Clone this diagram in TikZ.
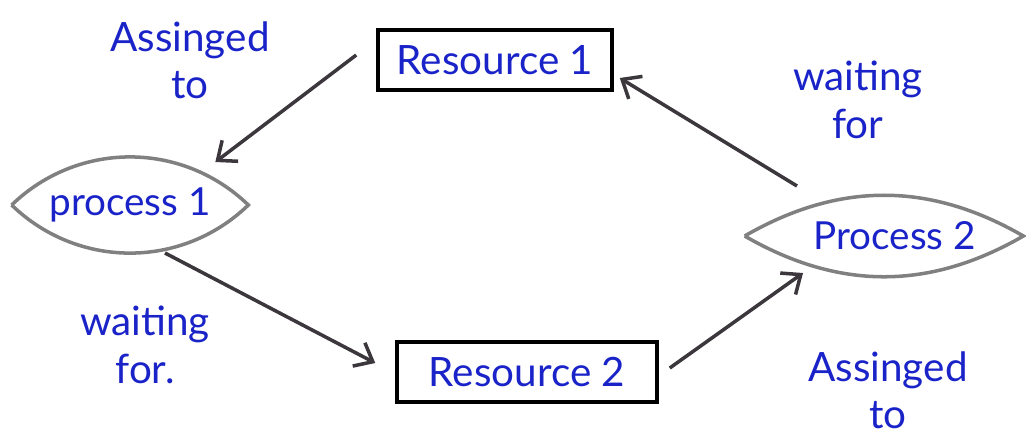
\documentclass[tikz,border=0pt]{standalone}
\usepackage{fontspec}
\setmainfont{Lato}
\usepackage{tikz}
\usetikzlibrary{calc, positioning, arrows.meta}
\definecolor{inkblue}{RGB}{25,35,200}
\definecolor{pencil}{RGB}{60,55,60}
\tikzstyle{res}=[draw=black, line width=2pt, inner sep=0pt, minimum height=60*0.02cm, text=inkblue, font=\fontsize{23}{26}\selectfont]
\tikzstyle{proc}=[inner sep=0pt, text=inkblue, font=\fontsize{22}{26}\selectfont]
\tikzstyle{lbl}=[align=center, text=inkblue, font=\fontsize{23}{27}\selectfont]
\tikzset{>={Straight Barb[length=9pt, width=15pt]}}

\begin{document}
\begin{tikzpicture}[x=0.02cm, y=-0.02cm]
\useasboundingbox (0,0) rectangle (1026,441);
\node[res, minimum width=234*0.02cm] (R1) at (495,60) {Resource 1};
\node[res, minimum width=260*0.02cm] (R2) at (527,372) {Resource 2};
\node[proc, minimum width=236*0.02cm] (P1) at (130,205) {process 1};
\node[proc, minimum width=278*0.02cm] (P2) at (884,236) {\hspace{12pt}Process 2};
\node[lbl] (L1) at (190,60) {Assinged\\to};
\node[lbl] (L2) at (858,100) {waiting\\for};
\node[lbl] (L3) at (145,345) {waiting\\for.};
\node[lbl] (L4) at (888,390) {Assinged\\to};
%\draw[thick] (P1.west) to[bend left = 35] (P1.east);
\draw[gray, line width=2pt] (P1.west) to[bend left = 44] (P1.east) to[bend left = 44] (P1.west);
\draw[gray, line width=2pt] (P2.west) to[bend left = 30] (P2.east) to[bend left = 30] (P2.west);
\draw[->, pencil, line width=2pt] ($(R1.west)+(-20,-5)$) -- ($(P1.east)+(-33,-43)$);
\draw[->, pencil, line width=2pt] ($(P1.center)+(35,48)$) -- ($(R2.west)+(-20,-9)$);
\draw[->, pencil, line width=2pt] ($(R2.east)+(11,-4)$) -- ($(P2.center)+(-81,37)$);
\draw[->, pencil, line width=2pt] ($(P2.center)+(-87,-50)$) -- ($(R1.east)+(6,18)$);
\end{tikzpicture}
\end{document}
